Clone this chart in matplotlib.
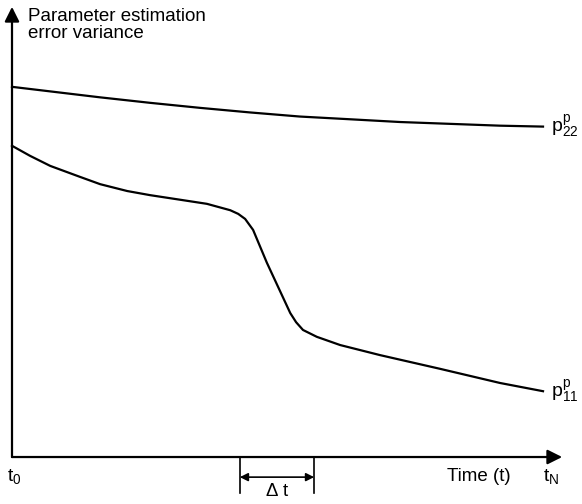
import matplotlib
matplotlib.use("Agg")
import matplotlib.pyplot as plt

plt.rcParams['font.family'] = ['Liberation Sans', 'DejaVu Sans']
plt.rcParams['mathtext.fontset'] = 'custom'
plt.rcParams['mathtext.rm'] = 'Liberation Sans'

# time runs from t0 = 0 to tN = 10, variance in arbitrary units
t_p11 = [0, 0.34, 0.72, 1.28, 1.66, 2.17, 2.6, 3.22, 3.67, 4.11, 4.26, 4.39, 4.54, 4.8,
         5.24, 5.35, 5.48, 5.74, 6.18, 6.93, 8.06, 9.19, 10]
p11 = [68.1, 65.9, 63.7, 61.3, 59.7, 58.2, 57.3, 56.2, 55.4, 54.0, 53.2, 52.1, 49.7, 42.5,
       31.5, 29.5, 27.8, 26.3, 24.5, 22.3, 19.3, 16.2, 14.4]

t_p22 = [0, 1.66, 2.6, 3.54, 4.48, 5.42, 6.37, 7.31, 8.25, 9.19, 10]
p22 = [81.0, 78.7, 77.5, 76.4, 75.4, 74.5, 73.9, 73.3, 72.9, 72.5, 72.3]

dt_start = 4.29
dt_end = 5.69

fig = plt.figure(figsize=(5.82, 5.04), dpi=100)
ax = fig.add_axes([0, 0, 1, 1])
ax.set_xlim(-0.226, 10.734)
ax.set_ylim(-10.28, 100)
ax.axis('off')

# axes with arrow heads
ax.annotate('', xy=(0, 98.5), xytext=(0, 0),
            arrowprops=dict(arrowstyle='-|>', mutation_scale=22, lw=1.6, color='black',
                            shrinkA=0, shrinkB=0))
ax.annotate('', xy=(10.36, 0), xytext=(0, 0),
            arrowprops=dict(arrowstyle='-|>', mutation_scale=22, lw=1.6, color='black',
                            shrinkA=0, shrinkB=0))

ax.plot(t_p22, p22, color='black', lw=1.6, solid_joinstyle='round')
ax.plot(t_p11, p11, color='black', lw=1.6, solid_joinstyle='round')

ax.text(0.3, 98.2, 'Parameter estimation\nerror variance', fontsize=13.5,
        va='top', ha='left', linespacing=1.0)

ax.text(10.15, p22[-1], r'$\mathregular{p^p_{22}}$', fontsize=14, va='center', ha='left')
ax.text(10.15, p11[-1], r'$\mathregular{p^p_{11}}$', fontsize=14, va='center', ha='left')

ax.text(-0.1, -2.2, r'$\mathregular{t_0}$', fontsize=14, va='top', ha='left')
ax.text(10.0, -2.2, r'$\mathregular{t_N}$', fontsize=14, va='top', ha='left')
ax.text(8.8, -2.4, 'Time (t)', fontsize=13.5, va='top', ha='center')

# delta t marker
ax.plot([dt_start, dt_start], [0, -7.9], color='black', lw=1.2)
ax.plot([dt_end, dt_end], [0, -7.9], color='black', lw=1.2)
ax.annotate('', xy=(dt_end, -4.4), xytext=(dt_start, -4.4),
            arrowprops=dict(arrowstyle='<|-|>', mutation_scale=12, lw=1.2, color='black',
                            shrinkA=0, shrinkB=0))
ax.text((dt_start + dt_end) / 2, -5.6, r'$\Delta$ t', fontsize=13.5, va='top', ha='center')

fig.savefig('out.png', dpi=100)
